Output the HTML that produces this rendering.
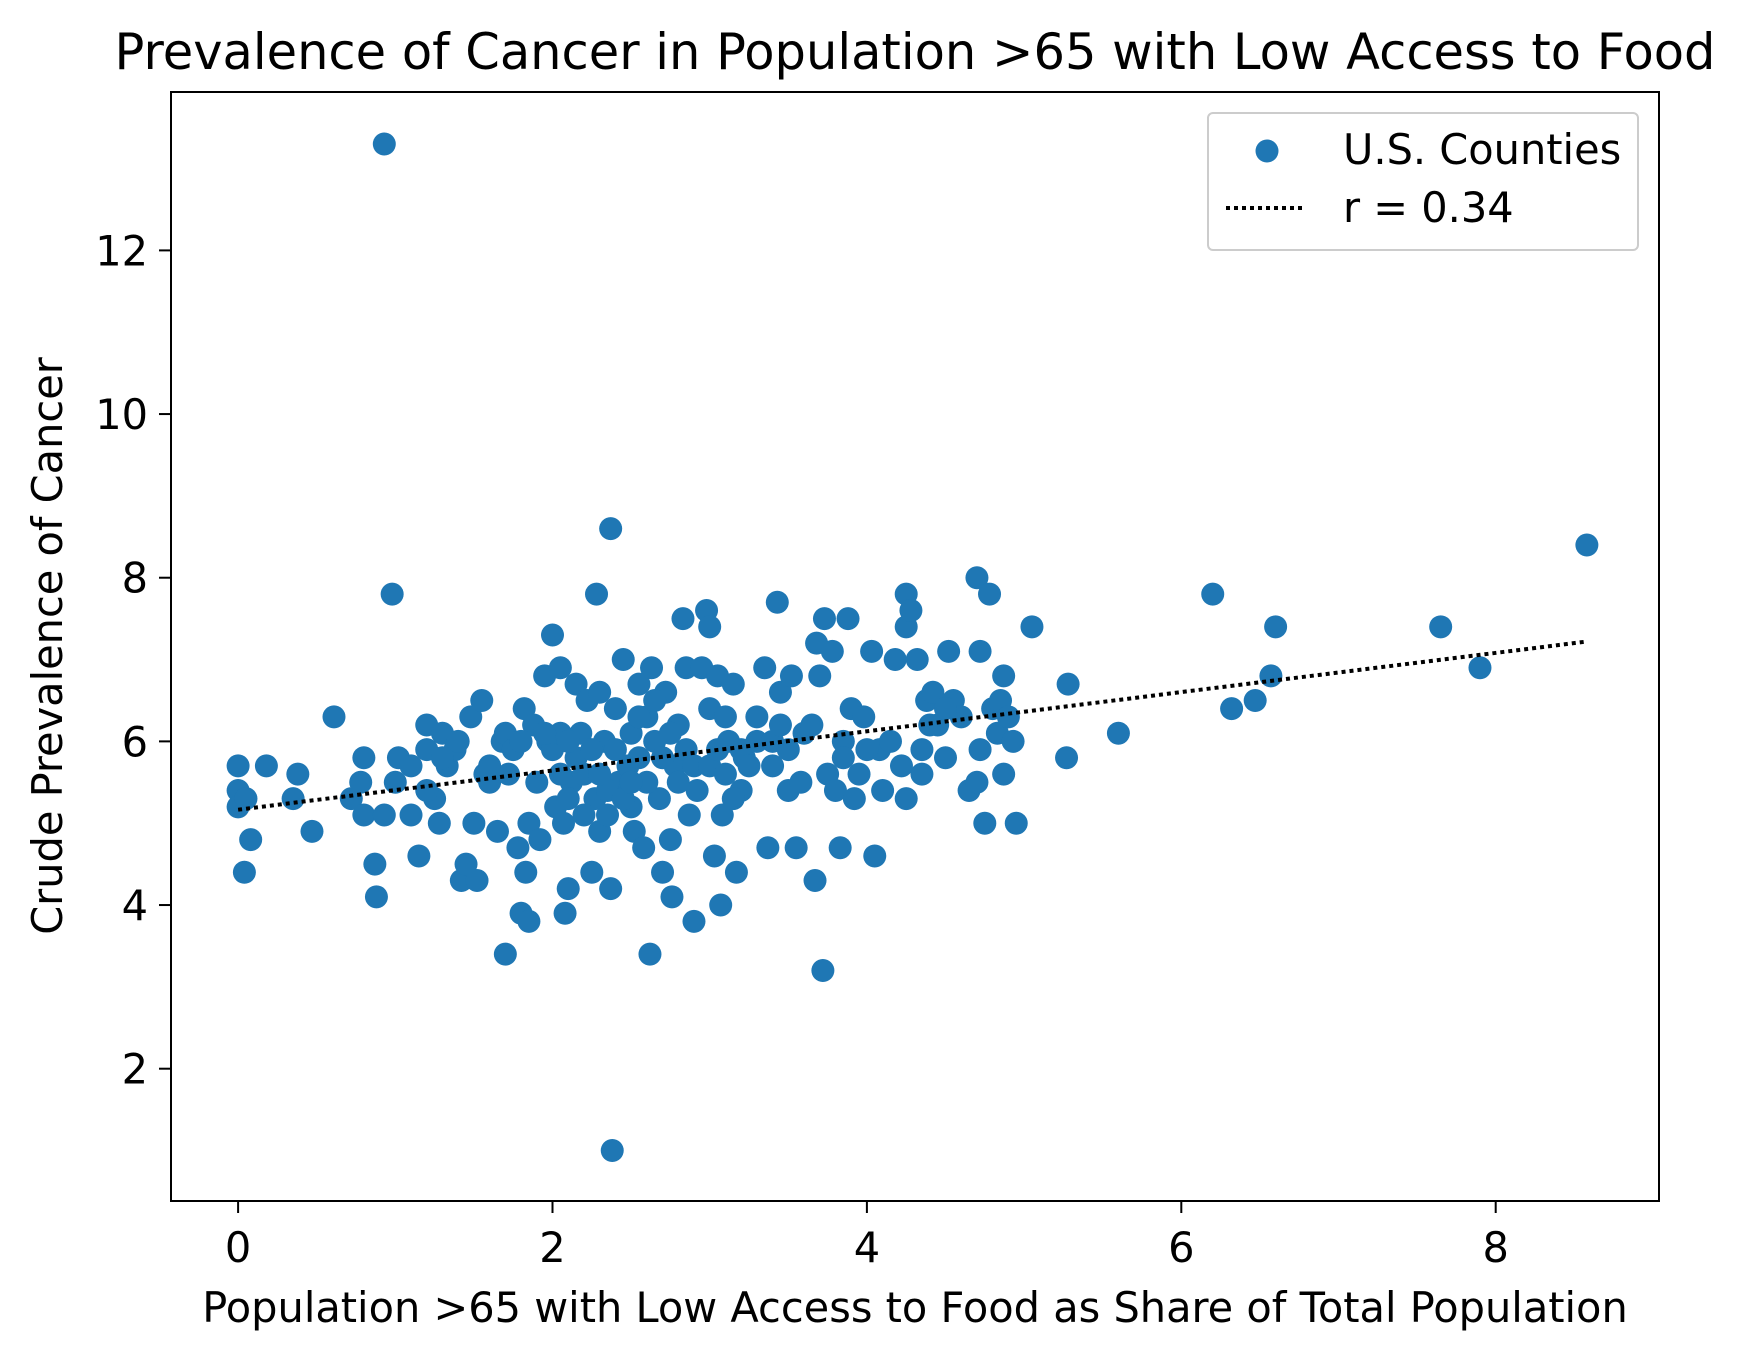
<!DOCTYPE html>
<html><head><meta charset="utf-8"><style>
html,body{margin:0;padding:0;background:#fff;}
svg{display:block;font-family:"DejaVu Sans","Liberation Sans",sans-serif;}
</style></head><body>
<svg id="chart" width="1753" height="1361" viewBox="0 0 1753 1361" xmlns="http://www.w3.org/2000/svg">
<rect width="1753" height="1361" fill="#fff"/>
<text x="915" y="69" font-size="49.5" text-anchor="middle">Prevalence of Cancer in Population &gt;65 with Low Access to Food</text>
<g id="plot"></g>
<rect x="171" y="92" width="1488" height="1109" fill="none" stroke="#000" stroke-width="2"/>
<g id="ticks"></g>
<text x="915" y="1322" font-size="41.5" text-anchor="middle">Population &gt;65 with Low Access to Food as Share of Total Population</text>
<text transform="translate(62,646) rotate(-90)" font-size="41.5" text-anchor="middle">Crude Prevalence of Cancer</text>
<g>
<rect x="1208" y="113" width="430" height="137" rx="5" fill="#fff" fill-opacity="0.8" stroke="#ccc" stroke-width="2"/>
<circle cx="1267" cy="151" r="11.5" fill="#1f77b4"/>
<text x="1343" y="164" font-size="41.5">U.S. Counties</text>
<line x1="1226" y1="208" x2="1305" y2="208" stroke="#000" stroke-width="4" stroke-dasharray="4,4"/>
<text x="1343" y="222" font-size="41.5">r = 0.34</text>
</g>
</svg>
<script>
const xs = [0.93,2.37,0.98,2.28,8.58,0,0,0,0.05,0.08,0.04,0.18,0.38,0.35,0.47,0.61,0.72,0.78,0.8,0.8,0.87,0.88,0.93,1.02,1.0,1.1,1.15,1.2,1.2,1.25,1.28,1.3,1.33,1.38,1.4,1.42,1.45,1.48,1.5,1.52,1.55,1.57,1.6,1.65,1.68,1.7,1.72,1.78,1.8,1.82,1.83,1.85,1.85,1.88,1.9,1.92,1.95,1.97,2.0,2.02,2.05,2.07,2.08,2.1,2.12,2.15,2.18,2.2,2.22,2.25,2.27,2.3,2.3,2.33,2.37,2.38,2.4,2.42,2.45,2.48,2.5,2.52,2.55,2.58,2.6,2.62,2.63,2.65,2.68,2.7,2.72,2.75,2.76,2.78,2.8,2.83,2.85,2.87,2.9,2.92,2.95,2.98,3.0,3.0,3.03,3.05,3.07,3.08,3.1,3.12,3.15,3.17,3.2,3.22,3.3,3.35,3.37,3.4,3.43,3.45,3.5,3.52,3.55,3.58,3.6,3.65,3.67,3.68,3.7,3.72,3.73,3.75,3.78,3.8,3.83,3.85,3.88,3.9,3.92,3.95,3.98,4.03,4.05,4.08,4.1,4.15,4.18,4.22,4.25,4.25,4.25,4.28,4.32,4.35,4.38,4.42,4.45,4.5,4.52,4.55,4.6,4.65,4.7,4.7,4.72,4.72,4.75,4.78,4.8,4.83,4.85,4.87,4.87,4.9,4.93,4.95,5.05,5.27,5.28,5.6,6.2,6.32,6.47,6.57,6.6,7.65,7.9,2.0,2.05,2.1,2.15,2.2,2.25,2.35,2.4,2.45,2.5,2.55,2.6,2.7,2.75,2.85,2.9,3.0,3.05,3.1,3.15,3.2,3.25,3.3,3.4,3.45,3.5,1.7,1.75,1.8,1.95,2.05,2.1,2.3,2.35,2.5,2.55,2.65,2.8,1.6,1.3,1.2,1.1,4.35,4.4,4.0,3.85,4.5];
const ys = [13.3,8.6,7.8,7.8,8.4,5.7,5.4,5.2,5.3,4.8,4.4,5.7,5.6,5.3,4.9,6.3,5.3,5.5,5.8,5.1,4.5,4.1,5.1,5.8,5.5,5.1,4.6,6.2,5.9,5.3,5.0,6.1,5.7,5.9,6.0,4.3,4.5,6.3,5.0,4.3,6.5,5.6,5.5,4.9,6.0,3.4,5.6,4.7,3.9,6.4,4.4,3.8,5.0,6.2,5.5,4.8,6.8,6.0,7.3,5.2,6.9,5.0,3.9,4.2,5.5,6.7,6.1,5.6,6.5,4.4,5.3,6.6,4.9,6.0,4.2,1.0,6.4,5.5,7.0,5.7,5.2,4.9,6.7,4.7,6.3,3.4,6.9,6.0,5.3,4.4,6.6,4.8,4.1,5.7,6.2,7.5,6.9,5.1,3.8,5.4,6.9,7.6,6.4,7.4,4.6,6.8,4.0,5.1,6.3,6.0,6.7,4.4,5.4,5.8,6.0,6.9,4.7,5.7,7.7,6.6,5.4,6.8,4.7,5.5,6.1,6.2,4.3,7.2,6.8,3.2,7.5,5.6,7.1,5.4,4.7,6.0,7.5,6.4,5.3,5.6,6.3,7.1,4.6,5.9,5.4,6.0,7.0,5.7,7.8,7.4,5.3,7.6,7.0,5.6,6.5,6.6,6.2,5.8,7.1,6.5,6.3,5.4,8.0,5.5,7.1,5.9,5.0,7.8,6.4,6.1,6.5,6.8,5.6,6.3,6.0,5.0,7.4,5.8,6.7,6.1,7.8,6.4,6.5,6.8,7.4,7.4,6.9,5.9,6.1,5.3,5.8,5.1,5.9,5.4,5.9,5.3,6.1,5.8,5.5,5.8,6.1,5.9,5.7,5.7,5.9,5.6,5.3,5.9,5.7,6.3,6.0,6.2,5.9,6.1,5.9,6.0,6.1,5.6,6.0,5.6,5.1,5.5,6.3,6.5,5.5,5.7,5.8,5.4,5.7,5.9,6.2,5.9,5.8,6.4];
const xTicks = [0,2,4,6,8];
const yTicks = [2,4,6,8,10,12];

const NS = "http://www.w3.org/2000/svg";
const X = v => 238.1 + v * 157.2;
const Y = v => 1068.7 - (v - 2) * 81.83;
const plot = document.getElementById('plot');
const ticks = document.getElementById('ticks');
function mk(tag, attrs, parent) {
  const e = document.createElementNS(NS, tag);
  for (const k in attrs) e.setAttribute(k, attrs[k]);
  parent.appendChild(e);
  return e;
}
for (let i = 0; i < xs.length; i++) {
  const c = mk('circle', {cx: X(xs[i]), cy: Y(ys[i]), r: 11.5, fill: '#1f77b4'}, plot);
  
  
}
const n = xs.length;
const mx = xs.reduce((a, b) => a + b, 0) / n, my = ys.reduce((a, b) => a + b, 0) / n;
let sxy = 0, sxx = 0;
for (let i = 0; i < n; i++) { sxy += (xs[i] - mx) * (ys[i] - my); sxx += (xs[i] - mx) ** 2; }
const slope = sxy / sxx, icpt = my - slope * mx;
const xmin = Math.min(...xs), xmax = Math.max(...xs);
const fl = mk('line', {x1: X(xmin), y1: Y(icpt + slope * xmin), x2: X(xmax), y2: Y(icpt + slope * xmax), stroke: '#000', 'stroke-width': 4, 'stroke-dasharray': '4,4'}, plot);


for (const t of xTicks) {
  const l = mk('line', {x1: X(t), x2: X(t), y1: 1201, y2: 1213, stroke: '#000', 'stroke-width': 2}, ticks);
  
  
  const tx = mk('text', {x: X(t), y: 1262, 'font-size': 41.5, 'text-anchor': 'middle'}, ticks);
  
  
  tx.textContent = t;
}
for (const t of yTicks) {
  const l = mk('line', {x1: 159, x2: 171, y1: Y(t), y2: Y(t), stroke: '#000', 'stroke-width': 2}, ticks);
  
  
  const tx = mk('text', {x: 148, y: Y(t) + 15, 'font-size': 41.5, 'text-anchor': 'end'}, ticks);
  
  
  tx.textContent = t;
}
</script>
</body></html>
